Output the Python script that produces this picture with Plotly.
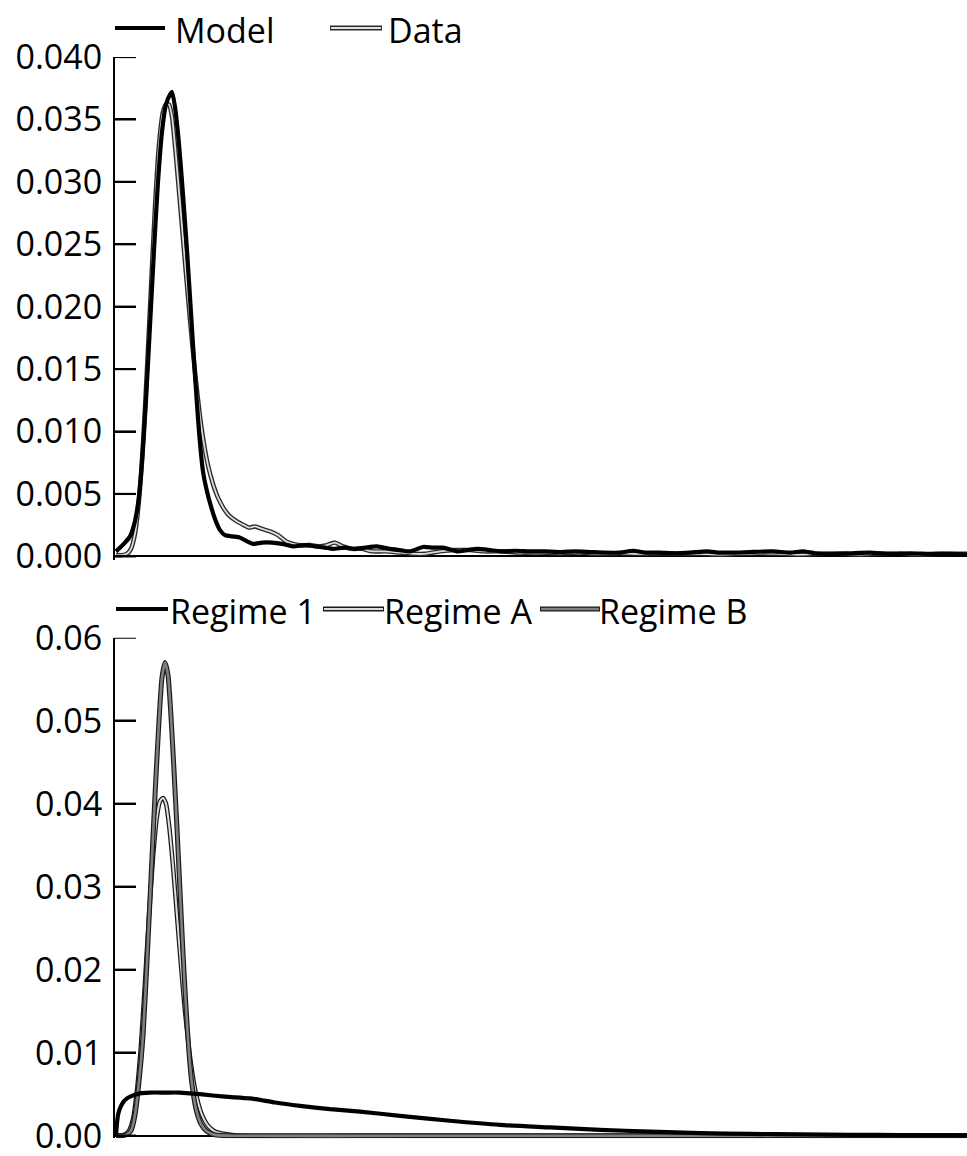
import plotly.graph_objects as go

# ---------------- data (x: unlabeled axis units) ----------------
model_x = [0, 4, 9, 14, 18, 22, 26, 30, 34, 38, 42, 46, 50, 54, 56, 59, 63, 67, 71, 75, 79, 83, 87,
           91, 95, 99, 104, 109, 116, 124, 131, 137, 146, 156, 166, 177, 189, 199, 209, 217, 229,
           239, 249, 261, 274, 284, 294, 307, 317, 327, 341, 351, 361, 374, 384, 399, 414, 429, 444,
           459, 474, 489, 504, 517, 529, 544, 559, 574, 591, 604, 619, 634, 657, 674, 687, 699, 714,
           734, 754, 774, 794, 814, 834, 851]
model_y = [0.0004, 0.0007, 0.0011, 0.0016, 0.0025, 0.0042, 0.0075, 0.0125, 0.0185, 0.0245, 0.0300,
           0.0340, 0.0362, 0.0370, 0.0372, 0.0360, 0.0330, 0.0290, 0.0245, 0.0195, 0.0145, 0.0100,
           0.0068, 0.0052, 0.0040, 0.0030, 0.0021, 0.0017, 0.0016, 0.0015, 0.0012, 0.0010, 0.0011,
           0.0011, 0.0010, 0.0008, 0.0009, 0.0008, 0.0007, 0.0006, 0.0007, 0.0006, 0.0007, 0.0008,
           0.0006, 0.0005, 0.0004, 0.00075, 0.0007, 0.0007, 0.0004, 0.0005, 0.0006, 0.0005, 0.0004,
           0.00045, 0.0004, 0.0004, 0.00035, 0.0004, 0.00035, 0.0003, 0.0003, 0.00045, 0.0003,
           0.0003, 0.00025, 0.0003, 0.0004, 0.0003, 0.0003, 0.00035, 0.0004, 0.0003, 0.0004,
           0.00025, 0.0002, 0.00025, 0.0003, 0.0002, 0.00025, 0.0002, 0.0002, 0.00015]

data_x = [0, 6, 11, 15, 19, 23, 27, 31, 35, 39, 43, 47, 50, 53, 56, 60, 64, 68, 72, 76, 80, 84, 88,
          92, 97, 102, 108, 114, 121, 128, 133, 139, 146, 154, 162, 170, 177, 184, 194, 204, 211,
          219, 227, 236, 246, 256, 269, 284, 299, 309, 324, 339, 354, 369, 384, 404, 424, 444, 464,
          484, 504, 524, 544, 564, 584, 604, 624, 644, 664, 684, 704, 724, 744, 764, 784, 804, 824,
          851]
data_y = [0.0001, 0.0001, 0.0002, 0.0006, 0.0018, 0.0045, 0.0090, 0.0150, 0.0215, 0.0280, 0.0330,
          0.0356, 0.0362, 0.0362, 0.0352, 0.0320, 0.0283, 0.0245, 0.0208, 0.0172, 0.0140, 0.0112,
          0.0090, 0.0073, 0.0058, 0.0047, 0.0038, 0.0032, 0.0028, 0.0025, 0.0023, 0.0024, 0.0022,
          0.0020, 0.0017, 0.0012, 0.0010, 0.0009, 0.0009, 0.0008, 0.0009, 0.0011, 0.0008, 0.0006,
          0.0006, 0.0004, 0.0004, 0.0003, 0.0002, 0.0002, 0.0004, 0.0005, 0.0005, 0.0004, 0.0004,
          0.0003, 0.0003, 0.00025, 0.0003, 0.0002, 0.00025, 0.0002, 0.00025, 0.0002, 0.0002,
          0.00015, 0.0002, 0.00025, 0.0002, 0.00015, 0.0002, 0.0002, 0.00015, 0.0002, 0.0002,
          0.00015, 0.0002, 0.0002]

reg1_x = [0, 1, 2, 4, 7, 11, 16, 24, 34, 49, 64, 84, 109, 134, 159, 184, 214, 244, 284, 334, 384,
          434, 484, 534, 584, 634, 684, 734, 784, 851]
reg1_y = [0.0000, 0.0015, 0.0025, 0.0033, 0.0040, 0.0045, 0.0048, 0.0051, 0.0052, 0.0052, 0.0052,
          0.0050, 0.0047, 0.0045, 0.0040, 0.0036, 0.0032, 0.0029, 0.0024, 0.0018, 0.0013, 0.0010,
          0.0007, 0.0005, 0.0003, 0.00022, 0.00015, 0.0001, 0.00008, 0.00005]

regA_x = [0, 8, 13, 17, 21, 25, 29, 33, 37, 41, 44, 47, 50, 53, 57, 61, 65, 69, 73, 77, 81, 86, 92,
          99, 109, 124, 300, 600, 851]
regA_y = [0.0000, 0.0001, 0.0006, 0.0020, 0.0055, 0.0110, 0.0185, 0.0265, 0.0335, 0.0385, 0.0403,
          0.0407, 0.0400, 0.0375, 0.0325, 0.0265, 0.0205, 0.0150, 0.0105, 0.0070, 0.0045, 0.0025,
          0.0012, 0.0005, 0.0002, 0.0000, 0.0000, 0.0000, 0.0000]

regB_x = [0, 10, 15, 19, 23, 27, 31, 35, 39, 43, 46, 49, 52, 55, 58, 61, 64, 67, 70, 73, 76, 80,
          85, 91, 99, 114, 300, 600, 851]
regB_y = [0.0000, 0.0001, 0.0006, 0.0025, 0.0065, 0.0120, 0.0210, 0.0310, 0.0410, 0.0500, 0.0552,
          0.0570, 0.0555, 0.0505, 0.0440, 0.0370, 0.0295, 0.0220, 0.0155, 0.0100, 0.0062, 0.0032,
          0.0014, 0.0005, 0.0001, 0.0000, 0.0000, 0.0000, 0.0000]

top_ticks = [0.000, 0.005, 0.010, 0.015, 0.020, 0.025, 0.030, 0.035, 0.040]
bot_ticks = [0.00, 0.01, 0.02, 0.03, 0.04, 0.05, 0.06]

# ---------------- figure ----------------
W, H = 967, 1156
FONT = "Open Sans"
FS = 34
TICKLEN = 21
AX_LEFT = 115


def px(x):
    return x / W


def py(y):
    return 1 - y / H


fig = go.Figure()


def add_line(x, y, xa, ya, color, width, smooth=0.6):
    fig.add_trace(go.Scatter(x=x, y=y, mode="lines", xaxis=xa, yaxis=ya, showlegend=False,
                             hoverinfo="skip",
                             line=dict(color=color, width=width, shape="spline", smoothing=smooth)))


# top panel: Data (double line) then Model
add_line(data_x, data_y, "x", "y", "#2a2a2a", 4.5)
add_line(data_x, data_y, "x", "y", "#dcdcdc", 1.8)
add_line(model_x, model_y, "x", "y", "#000000", 4.2)

# bottom panel: Regime A, Regime B (double lines), Regime 1
add_line(regA_x, regA_y, "x2", "y2", "#1a1a1a", 4.5)
add_line(regA_x, regA_y, "x2", "y2", "#dedede", 2.0)
add_line(regB_x, regB_y, "x2", "y2", "#1a1a1a", 5.0)
add_line(regB_x, regB_y, "x2", "y2", "#808080", 2.6)
add_line(reg1_x, reg1_y, "x2", "y2", "#000000", 4.2)

xdom = [AX_LEFT / W, 1.0]
xcommon = dict(domain=xdom, range=[-1, 851], showticklabels=False, showgrid=False,
               zeroline=False, showline=False, ticks="", fixedrange=True, automargin=False)
ycommon = dict(showgrid=False, showline=True, linecolor="black", linewidth=2,
               ticks="inside", ticklen=TICKLEN, tickwidth=2, tickcolor="black",
               zeroline=True, zerolinecolor="black", zerolinewidth=2,
               tickfont=dict(family=FONT, size=FS, color="black"),
               ticklabelstandoff=4, automargin=False, ticklabeloverflow="allow")

fig.update_layout(
    width=W, height=H,
    margin=dict(l=0, r=0, t=0, b=0, pad=0, autoexpand=False),
    paper_bgcolor="white", plot_bgcolor="rgba(0,0,0,0)",
    showlegend=False,
    xaxis=dict(**xcommon, anchor="y"),
    yaxis=dict(**ycommon, anchor="x", domain=[py(560.1), py(57)],
               range=[-0.0003, 0.040], tickvals=top_ticks, tickformat=".3f"),
    xaxis2=dict(**xcommon, anchor="y2"),
    yaxis2=dict(**ycommon, anchor="x2", domain=[py(1138.2), py(637.7)],
                range=[-0.0003, 0.06], tickvals=bot_ticks, tickformat=".2f"),
)

shapes = []
annotations = []

# inward tick marks placed at the tick values through each y axis
for yr, vals in (("y", top_ticks), ("y2", bot_ticks)):
    for v in vals:
        shapes.append(dict(type="line", xref="paper", yref=yr,
                           x0=px(AX_LEFT - 1), x1=px(AX_LEFT + TICKLEN),
                           y0=v, y1=v, layer="above", line=dict(color="#000000", width=2.2)))


# ---------------- manual legends (double-line samples) ----------------
def legend_item(x0, x1, y, label, tx, kind):
    if kind == "solid":
        shapes.append(dict(type="line", xref="paper", yref="paper", x0=px(x0), x1=px(x1),
                           y0=py(y), y1=py(y), line=dict(color="black", width=4)))
    else:
        outer, inner, wo, wi = kind
        shapes.append(dict(type="line", xref="paper", yref="paper", x0=px(x0), x1=px(x1),
                           y0=py(y), y1=py(y), line=dict(color=outer, width=wo)))
        shapes.append(dict(type="line", xref="paper", yref="paper", x0=px(x0 + 1), x1=px(x1 - 1),
                           y0=py(y), y1=py(y), line=dict(color=inner, width=wi)))
    annotations.append(dict(x=px(tx), y=py(y + 2), xref="paper", yref="paper", text=label,
                            showarrow=False, xanchor="left", yanchor="middle",
                            font=dict(family=FONT, size=FS, color="black")))


legend_item(115, 165, 28, "Model", 173, "solid")
legend_item(330, 382, 28, "Data", 386, ("#2a2a2a", "#e2e2e2", 5, 2))
legend_item(116, 168, 609, "Regime 1", 168, "solid")
legend_item(323, 384, 609, "Regime A", 382, ("#1a1a1a", "#dedede", 5, 2))
legend_item(540, 600, 609, "Regime B", 597, ("#1a1a1a", "#808080", 5, 2.5))

fig.update_layout(shapes=shapes, annotations=annotations)

fig.write_html("out.html")
